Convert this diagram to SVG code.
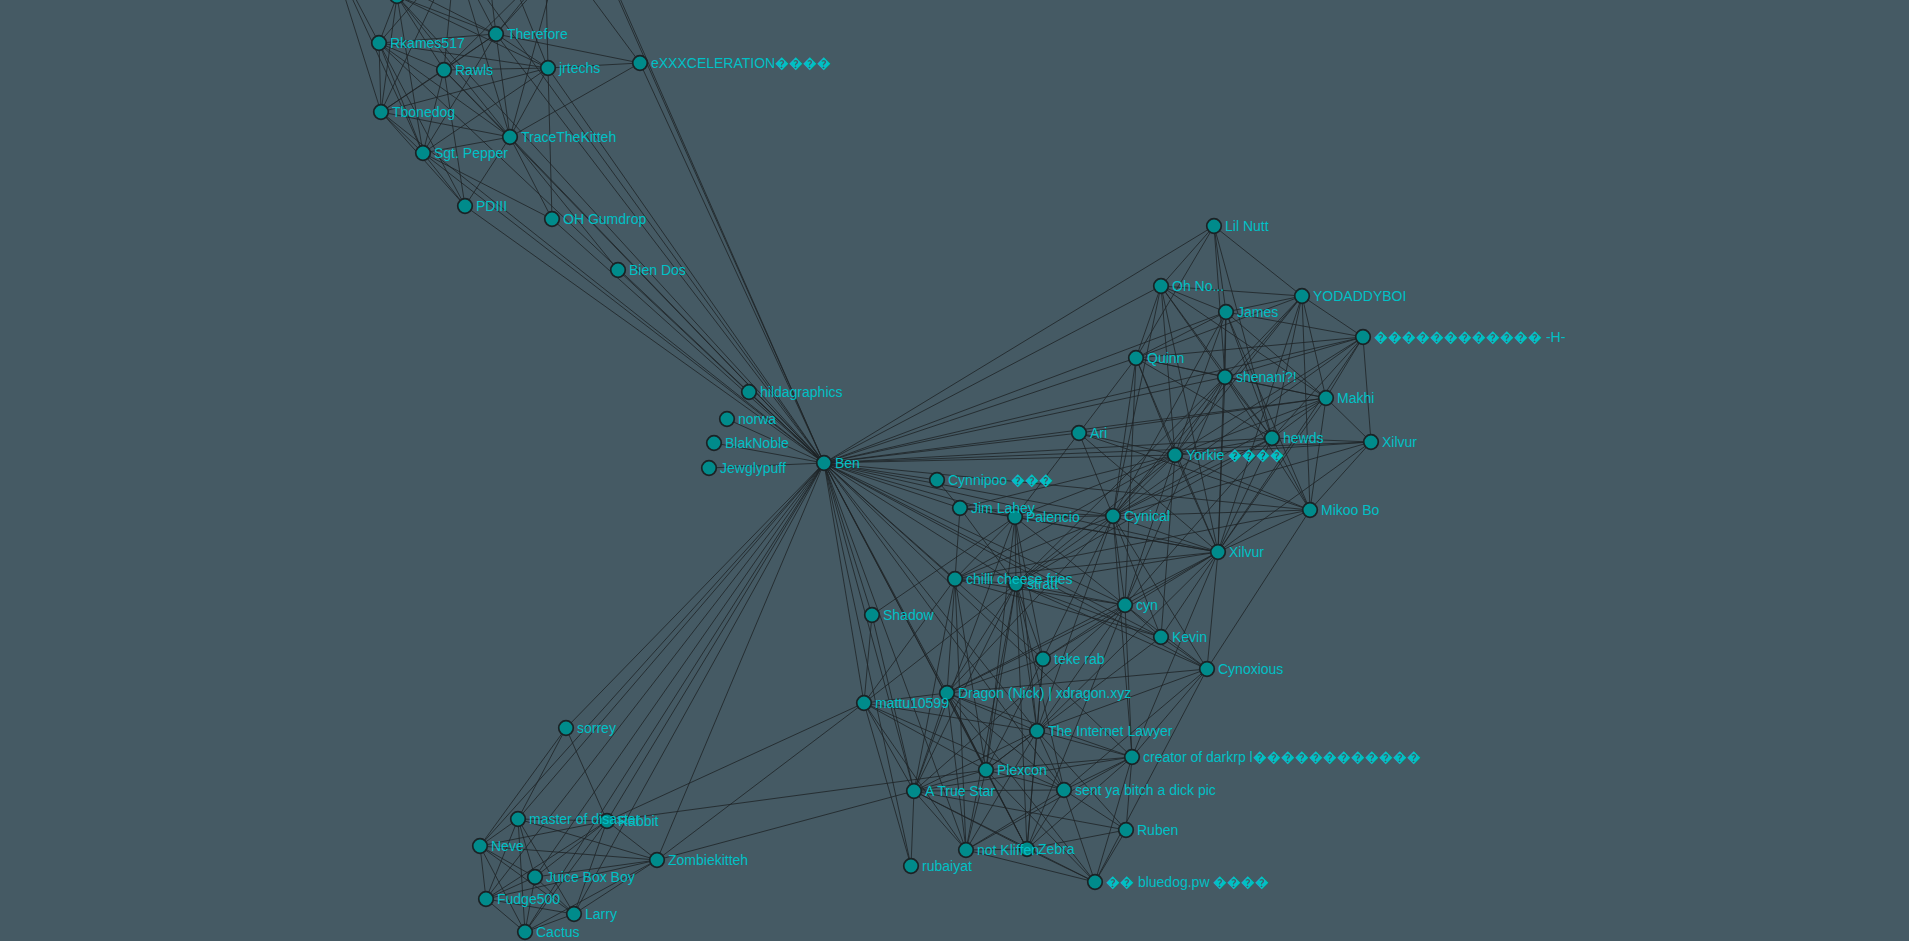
<svg xmlns="http://www.w3.org/2000/svg" width="1909" height="941" viewBox="0 0 1909 941">
<style>
.bg{fill:#455a64}
#links line{stroke:#1e2326;stroke-opacity:.8;stroke-width:1}
.n circle{fill:#008b8b;stroke:#1b2225;stroke-width:1.7}
.n text{fill:#00c0c6;font-family:"Liberation Sans",Arial,sans-serif;font-size:14px}
</style>
<rect class="bg" x="0" y="0" width="1909" height="941"/>
<g id="links">
<line x1="379" y1="43" x2="397" y2="-4"/><line x1="379" y1="43" x2="330" y2="-50"/><line x1="379" y1="43" x2="455" y2="-45"/><line x1="379" y1="43" x2="496" y2="34"/><line x1="379" y1="43" x2="444" y2="70"/><line x1="379" y1="43" x2="548" y2="68"/><line x1="379" y1="43" x2="381" y2="112"/><line x1="379" y1="43" x2="510" y2="137"/><line x1="379" y1="43" x2="423" y2="153"/><line x1="379" y1="43" x2="465" y2="206"/>
<line x1="496" y1="34" x2="397" y2="-4"/><line x1="496" y1="34" x2="330" y2="-50"/><line x1="496" y1="34" x2="455" y2="-45"/><line x1="496" y1="34" x2="560" y2="-45"/><line x1="496" y1="34" x2="590" y2="-70"/><line x1="496" y1="34" x2="480" y2="-100"/><line x1="496" y1="34" x2="444" y2="70"/><line x1="496" y1="34" x2="548" y2="68"/><line x1="496" y1="34" x2="640" y2="63"/><line x1="496" y1="34" x2="381" y2="112"/><line x1="496" y1="34" x2="510" y2="137"/><line x1="496" y1="34" x2="423" y2="153"/>
<line x1="444" y1="70" x2="397" y2="-4"/><line x1="444" y1="70" x2="455" y2="-45"/><line x1="444" y1="70" x2="560" y2="-45"/><line x1="444" y1="70" x2="548" y2="68"/><line x1="444" y1="70" x2="381" y2="112"/><line x1="444" y1="70" x2="510" y2="137"/><line x1="444" y1="70" x2="423" y2="153"/><line x1="444" y1="70" x2="465" y2="206"/>
<line x1="548" y1="68" x2="397" y2="-4"/><line x1="548" y1="68" x2="545" y2="-60"/><line x1="548" y1="68" x2="480" y2="-100"/><line x1="548" y1="68" x2="640" y2="63"/><line x1="548" y1="68" x2="381" y2="112"/><line x1="548" y1="68" x2="510" y2="137"/><line x1="548" y1="68" x2="423" y2="153"/><line x1="548" y1="68" x2="552" y2="219"/>
<line x1="640" y1="63" x2="560" y2="-45"/><line x1="640" y1="63" x2="510" y2="137"/>
<line x1="381" y1="112" x2="397" y2="-4"/><line x1="381" y1="112" x2="330" y2="-50"/><line x1="381" y1="112" x2="455" y2="-45"/><line x1="381" y1="112" x2="510" y2="137"/><line x1="381" y1="112" x2="423" y2="153"/><line x1="381" y1="112" x2="465" y2="206"/>
<line x1="510" y1="137" x2="397" y2="-4"/><line x1="510" y1="137" x2="455" y2="-45"/><line x1="510" y1="137" x2="560" y2="-45"/><line x1="510" y1="137" x2="423" y2="153"/><line x1="510" y1="137" x2="465" y2="206"/><line x1="510" y1="137" x2="552" y2="219"/><line x1="510" y1="137" x2="618" y2="270"/>
<line x1="423" y1="153" x2="397" y2="-4"/><line x1="423" y1="153" x2="330" y2="-50"/><line x1="423" y1="153" x2="465" y2="206"/><line x1="423" y1="153" x2="552" y2="219"/>
<line x1="379" y1="43" x2="824" y2="463"/><line x1="496" y1="34" x2="824" y2="463"/><line x1="444" y1="70" x2="824" y2="463"/><line x1="548" y1="68" x2="824" y2="463"/><line x1="640" y1="63" x2="824" y2="463"/><line x1="381" y1="112" x2="824" y2="463"/><line x1="510" y1="137" x2="824" y2="463"/><line x1="423" y1="153" x2="824" y2="463"/><line x1="465" y1="206" x2="824" y2="463"/><line x1="552" y1="219" x2="824" y2="463"/><line x1="618" y1="270" x2="824" y2="463"/><line x1="397" y1="-4" x2="824" y2="463"/><line x1="590" y1="-70" x2="824" y2="463"/><line x1="570" y1="-110" x2="824" y2="463"/><line x1="455" y1="-45" x2="824" y2="463"/>
<line x1="749" y1="392" x2="824" y2="463"/><line x1="727" y1="419" x2="824" y2="463"/><line x1="714" y1="443" x2="824" y2="463"/><line x1="709" y1="468" x2="824" y2="463"/>
<line x1="566" y1="728" x2="824" y2="463"/><line x1="518" y1="819" x2="824" y2="463"/><line x1="607" y1="821" x2="824" y2="463"/><line x1="480" y1="846" x2="824" y2="463"/><line x1="657" y1="860" x2="824" y2="463"/><line x1="535" y1="877" x2="824" y2="463"/><line x1="486" y1="899" x2="824" y2="463"/><line x1="574" y1="914" x2="824" y2="463"/><line x1="525" y1="932" x2="824" y2="463"/>
<line x1="1214" y1="226" x2="824" y2="463"/><line x1="1161" y1="286" x2="824" y2="463"/><line x1="1136" y1="358" x2="824" y2="463"/><line x1="1226" y1="312" x2="824" y2="463"/><line x1="1079" y1="433" x2="824" y2="463"/><line x1="1225" y1="377" x2="824" y2="463"/><line x1="1363" y1="337" x2="824" y2="463"/><line x1="1175" y1="455" x2="824" y2="463"/><line x1="1272" y1="438" x2="824" y2="463"/><line x1="1371" y1="442" x2="824" y2="463"/><line x1="1326" y1="398" x2="824" y2="463"/><line x1="1310" y1="510" x2="824" y2="463"/><line x1="937" y1="480" x2="824" y2="463"/><line x1="960" y1="508" x2="824" y2="463"/><line x1="1015" y1="517" x2="824" y2="463"/><line x1="1113" y1="516" x2="824" y2="463"/><line x1="1218" y1="552" x2="824" y2="463"/><line x1="955" y1="579" x2="824" y2="463"/><line x1="1016" y1="584" x2="824" y2="463"/><line x1="1125" y1="605" x2="824" y2="463"/><line x1="1161" y1="637" x2="824" y2="463"/><line x1="1207" y1="669" x2="824" y2="463"/><line x1="1043" y1="659" x2="824" y2="463"/><line x1="872" y1="615" x2="824" y2="463"/><line x1="864" y1="703" x2="824" y2="463"/><line x1="947" y1="693" x2="824" y2="463"/><line x1="914" y1="791" x2="824" y2="463"/><line x1="986" y1="770" x2="824" y2="463"/><line x1="1037" y1="731" x2="824" y2="463"/><line x1="966" y1="850" x2="824" y2="463"/><line x1="1027" y1="849" x2="824" y2="463"/><line x1="911" y1="866" x2="824" y2="463"/><line x1="1064" y1="790" x2="824" y2="463"/><line x1="1132" y1="757" x2="824" y2="463"/>
<line x1="1214" y1="226" x2="1161" y2="286"/><line x1="1214" y1="226" x2="1226" y2="312"/><line x1="1214" y1="226" x2="1225" y2="377"/><line x1="1214" y1="226" x2="1302" y2="296"/><line x1="1214" y1="226" x2="1136" y2="358"/><line x1="1214" y1="226" x2="1272" y2="438"/>
<line x1="1161" y1="286" x2="1136" y2="358"/><line x1="1161" y1="286" x2="1226" y2="312"/><line x1="1161" y1="286" x2="1302" y2="296"/><line x1="1161" y1="286" x2="1225" y2="377"/><line x1="1161" y1="286" x2="1272" y2="438"/><line x1="1161" y1="286" x2="1175" y2="455"/><line x1="1161" y1="286" x2="1113" y2="516"/><line x1="1161" y1="286" x2="1218" y2="552"/><line x1="1161" y1="286" x2="1326" y2="398"/>
<line x1="1302" y1="296" x2="1226" y2="312"/><line x1="1302" y1="296" x2="1363" y2="337"/><line x1="1302" y1="296" x2="1225" y2="377"/><line x1="1302" y1="296" x2="1326" y2="398"/><line x1="1302" y1="296" x2="1272" y2="438"/><line x1="1302" y1="296" x2="1175" y2="455"/><line x1="1302" y1="296" x2="1310" y2="510"/><line x1="1302" y1="296" x2="1136" y2="358"/><line x1="1302" y1="296" x2="1113" y2="516"/><line x1="1302" y1="296" x2="1218" y2="552"/>
<line x1="1226" y1="312" x2="1363" y2="337"/><line x1="1226" y1="312" x2="1136" y2="358"/><line x1="1226" y1="312" x2="1225" y2="377"/><line x1="1226" y1="312" x2="1272" y2="438"/><line x1="1226" y1="312" x2="1175" y2="455"/><line x1="1226" y1="312" x2="1218" y2="552"/><line x1="1226" y1="312" x2="1310" y2="510"/><line x1="1226" y1="312" x2="1113" y2="516"/><line x1="1226" y1="312" x2="1326" y2="398"/>
<line x1="1363" y1="337" x2="1136" y2="358"/><line x1="1363" y1="337" x2="1225" y2="377"/><line x1="1363" y1="337" x2="1326" y2="398"/><line x1="1363" y1="337" x2="1371" y2="442"/><line x1="1363" y1="337" x2="1272" y2="438"/><line x1="1363" y1="337" x2="1175" y2="455"/><line x1="1363" y1="337" x2="1113" y2="516"/><line x1="1363" y1="337" x2="1218" y2="552"/>
<line x1="1136" y1="358" x2="1225" y2="377"/><line x1="1136" y1="358" x2="1175" y2="455"/><line x1="1136" y1="358" x2="1113" y2="516"/><line x1="1136" y1="358" x2="1218" y2="552"/><line x1="1136" y1="358" x2="1272" y2="438"/><line x1="1136" y1="358" x2="1326" y2="398"/><line x1="1136" y1="358" x2="1125" y2="605"/><line x1="1136" y1="358" x2="1079" y2="433"/>
<line x1="1225" y1="377" x2="1326" y2="398"/><line x1="1225" y1="377" x2="1272" y2="438"/><line x1="1225" y1="377" x2="1175" y2="455"/><line x1="1225" y1="377" x2="1218" y2="552"/><line x1="1225" y1="377" x2="1113" y2="516"/><line x1="1225" y1="377" x2="1310" y2="510"/><line x1="1225" y1="377" x2="1016" y2="584"/><line x1="1225" y1="377" x2="1125" y2="605"/>
<line x1="1326" y1="398" x2="1272" y2="438"/><line x1="1326" y1="398" x2="1371" y2="442"/><line x1="1326" y1="398" x2="1175" y2="455"/><line x1="1326" y1="398" x2="1113" y2="516"/><line x1="1326" y1="398" x2="1218" y2="552"/><line x1="1326" y1="398" x2="1310" y2="510"/><line x1="1326" y1="398" x2="1079" y2="433"/>
<line x1="1079" y1="433" x2="1113" y2="516"/><line x1="1079" y1="433" x2="1175" y2="455"/><line x1="1079" y1="433" x2="1218" y2="552"/><line x1="1079" y1="433" x2="1015" y2="517"/><line x1="1079" y1="433" x2="1310" y2="510"/>
<line x1="1272" y1="438" x2="1371" y2="442"/><line x1="1272" y1="438" x2="1175" y2="455"/><line x1="1272" y1="438" x2="1310" y2="510"/><line x1="1272" y1="438" x2="1218" y2="552"/><line x1="1272" y1="438" x2="1113" y2="516"/><line x1="1272" y1="438" x2="1125" y2="605"/><line x1="1272" y1="438" x2="1016" y2="584"/>
<line x1="1371" y1="442" x2="1175" y2="455"/><line x1="1371" y1="442" x2="1218" y2="552"/><line x1="1371" y1="442" x2="1310" y2="510"/><line x1="1371" y1="442" x2="1113" y2="516"/>
<line x1="1175" y1="455" x2="1113" y2="516"/><line x1="1175" y1="455" x2="1218" y2="552"/><line x1="1175" y1="455" x2="1310" y2="510"/><line x1="1175" y1="455" x2="1015" y2="517"/><line x1="1175" y1="455" x2="1125" y2="605"/><line x1="1175" y1="455" x2="1016" y2="584"/><line x1="1175" y1="455" x2="955" y2="579"/><line x1="1175" y1="455" x2="1161" y2="637"/><line x1="1175" y1="455" x2="960" y2="508"/>
<line x1="1310" y1="510" x2="1113" y2="516"/><line x1="1310" y1="510" x2="1218" y2="552"/><line x1="1310" y1="510" x2="1207" y2="669"/><line x1="1310" y1="510" x2="955" y2="579"/>
<line x1="1113" y1="516" x2="1218" y2="552"/><line x1="1113" y1="516" x2="1015" y2="517"/><line x1="1113" y1="516" x2="960" y2="508"/><line x1="1113" y1="516" x2="1125" y2="605"/><line x1="1113" y1="516" x2="1016" y2="584"/><line x1="1113" y1="516" x2="955" y2="579"/><line x1="1113" y1="516" x2="1161" y2="637"/><line x1="1113" y1="516" x2="1207" y2="669"/><line x1="1113" y1="516" x2="1043" y2="659"/><line x1="1113" y1="516" x2="1037" y2="731"/><line x1="1113" y1="516" x2="947" y2="693"/><line x1="1113" y1="516" x2="1132" y2="757"/>
<line x1="1218" y1="552" x2="1015" y2="517"/><line x1="1218" y1="552" x2="1125" y2="605"/><line x1="1218" y1="552" x2="1161" y2="637"/><line x1="1218" y1="552" x2="1207" y2="669"/><line x1="1218" y1="552" x2="1016" y2="584"/><line x1="1218" y1="552" x2="955" y2="579"/><line x1="1218" y1="552" x2="1043" y2="659"/><line x1="1218" y1="552" x2="947" y2="693"/><line x1="1218" y1="552" x2="960" y2="508"/><line x1="1218" y1="552" x2="1132" y2="757"/><line x1="1218" y1="552" x2="1037" y2="731"/>
<line x1="937" y1="480" x2="960" y2="508"/>
<line x1="960" y1="508" x2="1015" y2="517"/><line x1="960" y1="508" x2="955" y2="579"/><line x1="960" y1="508" x2="1016" y2="584"/>
<line x1="1015" y1="517" x2="955" y2="579"/><line x1="1015" y1="517" x2="1016" y2="584"/><line x1="1015" y1="517" x2="1125" y2="605"/><line x1="1015" y1="517" x2="1043" y2="659"/><line x1="1015" y1="517" x2="1037" y2="731"/><line x1="1015" y1="517" x2="986" y2="770"/><line x1="1015" y1="517" x2="914" y2="791"/>
<line x1="955" y1="579" x2="1016" y2="584"/><line x1="955" y1="579" x2="1125" y2="605"/><line x1="955" y1="579" x2="947" y2="693"/><line x1="955" y1="579" x2="986" y2="770"/><line x1="955" y1="579" x2="914" y2="791"/><line x1="955" y1="579" x2="864" y2="703"/><line x1="955" y1="579" x2="966" y2="850"/><line x1="955" y1="579" x2="1161" y2="637"/>
<line x1="1016" y1="584" x2="1125" y2="605"/><line x1="1016" y1="584" x2="1043" y2="659"/><line x1="1016" y1="584" x2="947" y2="693"/><line x1="1016" y1="584" x2="1037" y2="731"/><line x1="1016" y1="584" x2="986" y2="770"/><line x1="1016" y1="584" x2="914" y2="791"/><line x1="1016" y1="584" x2="966" y2="850"/><line x1="1016" y1="584" x2="1027" y2="849"/><line x1="1016" y1="584" x2="1064" y2="790"/><line x1="1016" y1="584" x2="1161" y2="637"/><line x1="1016" y1="584" x2="864" y2="703"/><line x1="1016" y1="584" x2="1207" y2="669"/>
<line x1="1125" y1="605" x2="1161" y2="637"/><line x1="1125" y1="605" x2="1207" y2="669"/><line x1="1125" y1="605" x2="1043" y2="659"/><line x1="1125" y1="605" x2="1037" y2="731"/><line x1="1125" y1="605" x2="1132" y2="757"/><line x1="1125" y1="605" x2="947" y2="693"/><line x1="1125" y1="605" x2="914" y2="791"/><line x1="1125" y1="605" x2="1027" y2="849"/>
<line x1="1161" y1="637" x2="1207" y2="669"/><line x1="1161" y1="637" x2="986" y2="770"/>
<line x1="1207" y1="669" x2="1037" y2="731"/><line x1="1207" y1="669" x2="1132" y2="757"/><line x1="1207" y1="669" x2="1064" y2="790"/><line x1="1207" y1="669" x2="1095" y2="882"/><line x1="1207" y1="669" x2="947" y2="693"/>
<line x1="1043" y1="659" x2="947" y2="693"/><line x1="1043" y1="659" x2="1037" y2="731"/><line x1="1043" y1="659" x2="986" y2="770"/><line x1="1043" y1="659" x2="1027" y2="849"/>
<line x1="872" y1="615" x2="864" y2="703"/><line x1="872" y1="615" x2="914" y2="791"/><line x1="872" y1="615" x2="1015" y2="517"/>
<line x1="864" y1="703" x2="947" y2="693"/><line x1="864" y1="703" x2="914" y2="791"/><line x1="864" y1="703" x2="986" y2="770"/><line x1="864" y1="703" x2="911" y2="866"/><line x1="864" y1="703" x2="1037" y2="731"/><line x1="864" y1="703" x2="657" y2="860"/><line x1="864" y1="703" x2="607" y2="821"/><line x1="864" y1="703" x2="966" y2="850"/><line x1="864" y1="703" x2="1064" y2="790"/>
<line x1="947" y1="693" x2="1037" y2="731"/><line x1="947" y1="693" x2="986" y2="770"/><line x1="947" y1="693" x2="914" y2="791"/><line x1="947" y1="693" x2="966" y2="850"/><line x1="947" y1="693" x2="1027" y2="849"/><line x1="947" y1="693" x2="1064" y2="790"/><line x1="947" y1="693" x2="1132" y2="757"/><line x1="947" y1="693" x2="1095" y2="882"/>
<line x1="1037" y1="731" x2="1132" y2="757"/><line x1="1037" y1="731" x2="986" y2="770"/><line x1="1037" y1="731" x2="914" y2="791"/><line x1="1037" y1="731" x2="1064" y2="790"/><line x1="1037" y1="731" x2="1027" y2="849"/><line x1="1037" y1="731" x2="1126" y2="830"/><line x1="1037" y1="731" x2="966" y2="850"/>
<line x1="1132" y1="757" x2="986" y2="770"/><line x1="1132" y1="757" x2="914" y2="791"/><line x1="1132" y1="757" x2="1064" y2="790"/><line x1="1132" y1="757" x2="1126" y2="830"/><line x1="1132" y1="757" x2="1095" y2="882"/><line x1="1132" y1="757" x2="1027" y2="849"/><line x1="1132" y1="757" x2="966" y2="850"/>
<line x1="986" y1="770" x2="914" y2="791"/><line x1="986" y1="770" x2="1064" y2="790"/><line x1="986" y1="770" x2="1027" y2="849"/><line x1="986" y1="770" x2="966" y2="850"/><line x1="986" y1="770" x2="1095" y2="882"/>
<line x1="914" y1="791" x2="1064" y2="790"/><line x1="914" y1="791" x2="966" y2="850"/><line x1="914" y1="791" x2="1027" y2="849"/><line x1="914" y1="791" x2="911" y2="866"/><line x1="914" y1="791" x2="1095" y2="882"/><line x1="914" y1="791" x2="1126" y2="830"/>
<line x1="1064" y1="790" x2="1027" y2="849"/><line x1="1064" y1="790" x2="966" y2="850"/><line x1="1064" y1="790" x2="1126" y2="830"/><line x1="1064" y1="790" x2="1095" y2="882"/>
<line x1="1126" y1="830" x2="1027" y2="849"/><line x1="1126" y1="830" x2="1095" y2="882"/>
<line x1="1027" y1="849" x2="966" y2="850"/><line x1="1027" y1="849" x2="1095" y2="882"/><line x1="966" y1="850" x2="1095" y2="882"/>
<line x1="566" y1="728" x2="518" y2="819"/><line x1="566" y1="728" x2="607" y2="821"/><line x1="566" y1="728" x2="480" y2="846"/>
<line x1="518" y1="819" x2="607" y2="821"/><line x1="518" y1="819" x2="480" y2="846"/><line x1="518" y1="819" x2="535" y2="877"/><line x1="518" y1="819" x2="486" y2="899"/><line x1="518" y1="819" x2="574" y2="914"/><line x1="518" y1="819" x2="525" y2="932"/><line x1="518" y1="819" x2="657" y2="860"/>
<line x1="607" y1="821" x2="480" y2="846"/><line x1="607" y1="821" x2="535" y2="877"/><line x1="607" y1="821" x2="486" y2="899"/><line x1="607" y1="821" x2="574" y2="914"/><line x1="607" y1="821" x2="525" y2="932"/><line x1="607" y1="821" x2="657" y2="860"/><line x1="607" y1="821" x2="986" y2="770"/>
<line x1="480" y1="846" x2="657" y2="860"/><line x1="480" y1="846" x2="535" y2="877"/><line x1="480" y1="846" x2="486" y2="899"/><line x1="480" y1="846" x2="525" y2="932"/><line x1="480" y1="846" x2="574" y2="914"/>
<line x1="657" y1="860" x2="535" y2="877"/><line x1="657" y1="860" x2="486" y2="899"/><line x1="657" y1="860" x2="574" y2="914"/><line x1="657" y1="860" x2="525" y2="932"/><line x1="657" y1="860" x2="914" y2="791"/>
<line x1="535" y1="877" x2="486" y2="899"/><line x1="535" y1="877" x2="574" y2="914"/><line x1="535" y1="877" x2="525" y2="932"/>
<line x1="486" y1="899" x2="574" y2="914"/><line x1="486" y1="899" x2="525" y2="932"/><line x1="574" y1="914" x2="525" y2="932"/>
</g>
<g id="nodes">
<g class="n" id="n-o1" transform="translate(397,-4)"><circle r="7.3"/></g>
<g class="n" id="n-rkames517" transform="translate(379,43)"><circle r="7.3"/><text x="11" y="5">Rkames517</text></g>
<g class="n" id="n-therefore" transform="translate(496,34)"><circle r="7.3"/><text x="11" y="5">Therefore</text></g>
<g class="n" id="n-rawls" transform="translate(444,70)"><circle r="7.3"/><text x="11" y="5">Rawls</text></g>
<g class="n" id="n-jrtechs" transform="translate(548,68)"><circle r="7.3"/><text x="11" y="5">jrtechs</text></g>
<g class="n" id="n-exxx" transform="translate(640,63)"><circle r="7.3"/><text x="11" y="5">eXXXCELERATION&#xFFFD;&#xFFFD;&#xFFFD;&#xFFFD;</text></g>
<g class="n" id="n-tbonedog" transform="translate(381,112)"><circle r="7.3"/><text x="11" y="5">Tbonedog</text></g>
<g class="n" id="n-trace" transform="translate(510,137)"><circle r="7.3"/><text x="11" y="5">TraceTheKitteh</text></g>
<g class="n" id="n-sgtpepper" transform="translate(423,153)"><circle r="7.3"/><text x="11" y="5">Sgt. Pepper</text></g>
<g class="n" id="n-pdiii" transform="translate(465,206)"><circle r="7.3"/><text x="11" y="5">PDIII</text></g>
<g class="n" id="n-ohgumdrop" transform="translate(552,219)"><circle r="7.3"/><text x="11" y="5">OH Gumdrop</text></g>
<g class="n" id="n-biendos" transform="translate(618,270)"><circle r="7.3"/><text x="11" y="5">Bien Dos</text></g>
<g class="n" id="n-hilda" transform="translate(749,392)"><circle r="7.3"/><text x="11" y="5">hildagraphics</text></g>
<g class="n" id="n-norwa" transform="translate(727,419)"><circle r="7.3"/><text x="11" y="5">norwa</text></g>
<g class="n" id="n-blaknoble" transform="translate(714,443)"><circle r="7.3"/><text x="11" y="5">BlakNoble</text></g>
<g class="n" id="n-jewglypuff" transform="translate(709,468)"><circle r="7.3"/><text x="11" y="5">Jewglypuff</text></g>
<g class="n" id="n-ben" transform="translate(824,463)"><circle r="7.3"/><text x="11" y="5">Ben</text></g>
<g class="n" id="n-lilnutt" transform="translate(1214,226)"><circle r="7.3"/><text x="11" y="5">Lil Nutt</text></g>
<g class="n" id="n-ohno" transform="translate(1161,286)"><circle r="7.3"/><text x="11" y="5">Oh No...</text></g>
<g class="n" id="n-yodaddyboi" transform="translate(1302,296)"><circle r="7.3"/><text x="11" y="5">YODADDYBOI</text></g>
<g class="n" id="n-james" transform="translate(1226,312)"><circle r="7.3"/><text x="11" y="5">James</text></g>
<g class="n" id="n-h" transform="translate(1363,337)"><circle r="7.3"/><text x="11" y="5">&#xFFFD;&#xFFFD;&#xFFFD;&#xFFFD;&#xFFFD;&#xFFFD;&#xFFFD;&#xFFFD;&#xFFFD;&#xFFFD;&#xFFFD;&#xFFFD; -H-</text></g>
<g class="n" id="n-quinn" transform="translate(1136,358)"><circle r="7.3"/><text x="11" y="5">Quinn</text></g>
<g class="n" id="n-shenani" transform="translate(1225,377)"><circle r="7.3"/><text x="11" y="5">shenani?!</text></g>
<g class="n" id="n-makhi" transform="translate(1326,398)"><circle r="7.3"/><text x="11" y="5">Makhi</text></g>
<g class="n" id="n-ari" transform="translate(1079,433)"><circle r="7.3"/><text x="11" y="5">Ari</text></g>
<g class="n" id="n-hewds" transform="translate(1272,438)"><circle r="7.3"/><text x="11" y="5">hewds</text></g>
<g class="n" id="n-xilvur1" transform="translate(1371,442)"><circle r="7.3"/><text x="11" y="5">Xilvur</text></g>
<g class="n" id="n-yorkie" transform="translate(1175,455)"><circle r="7.3"/><text x="11" y="5">Yorkie &#xFFFD;&#xFFFD;&#xFFFD;&#xFFFD;</text></g>
<g class="n" id="n-mikoo" transform="translate(1310,510)"><circle r="7.3"/><text x="11" y="5">Mikoo Bo</text></g>
<g class="n" id="n-cynnipoo" transform="translate(937,480)"><circle r="7.3"/><text x="11" y="5">Cynnipoo &#xFFFD;&#xFFFD;&#xFFFD;</text></g>
<g class="n" id="n-palencio" transform="translate(1015,517)"><circle r="7.3"/><text x="11" y="5">Palencio</text></g>
<g class="n" id="n-jimlahey" transform="translate(960,508)"><circle r="7.3"/><text x="11" y="5">Jim Lahey</text></g>
<g class="n" id="n-cynical" transform="translate(1113,516)"><circle r="7.3"/><text x="11" y="5">Cynical</text></g>
<g class="n" id="n-xilvur2" transform="translate(1218,552)"><circle r="7.3"/><text x="11" y="5">Xilvur</text></g>
<g class="n" id="n-stratt" transform="translate(1016,584)"><circle r="7.3"/><text x="11" y="5">stratt</text></g>
<g class="n" id="n-chilli" transform="translate(955,579)"><circle r="7.3"/><text x="11" y="5">chilli cheese fries</text></g>
<g class="n" id="n-cyn" transform="translate(1125,605)"><circle r="7.3"/><text x="11" y="5">cyn</text></g>
<g class="n" id="n-kevin" transform="translate(1161,637)"><circle r="7.3"/><text x="11" y="5">Kevin</text></g>
<g class="n" id="n-cynoxious" transform="translate(1207,669)"><circle r="7.3"/><text x="11" y="5">Cynoxious</text></g>
<g class="n" id="n-tekerab" transform="translate(1043,659)"><circle r="7.3"/><text x="11" y="5">teke rab</text></g>
<g class="n" id="n-shadow" transform="translate(872,615)"><circle r="7.3"/><text x="11" y="5">Shadow</text></g>
<g class="n" id="n-dragon" transform="translate(947,693)"><circle r="7.3"/><text x="11" y="5">Dragon (Nick) | xdragon.xyz</text></g>
<g class="n" id="n-mattu" transform="translate(864,703)"><circle r="7.3"/><text x="11" y="5">mattu10599</text></g>
<g class="n" id="n-lawyer" transform="translate(1037,731)"><circle r="7.3"/><text x="11" y="5">The Internet Lawyer</text></g>
<g class="n" id="n-creator" transform="translate(1132,757)"><circle r="7.3"/><text x="11" y="5">creator of darkrp l&#xFFFD;&#xFFFD;&#xFFFD;&#xFFFD;&#xFFFD;&#xFFFD;&#xFFFD;&#xFFFD;&#xFFFD;&#xFFFD;&#xFFFD;&#xFFFD;</text></g>
<g class="n" id="n-plexcon" transform="translate(986,770)"><circle r="7.3"/><text x="11" y="5">Plexcon</text></g>
<g class="n" id="n-truestar" transform="translate(914,791)"><circle r="7.3"/><text x="11" y="5">A True Star</text></g>
<g class="n" id="n-sentya" transform="translate(1064,790)"><circle r="7.3"/><text x="11" y="5">sent ya bitch a dick pic</text></g>
<g class="n" id="n-ruben" transform="translate(1126,830)"><circle r="7.3"/><text x="11" y="5">Ruben</text></g>
<g class="n" id="n-zebra" transform="translate(1027,849)"><circle r="7.3"/><text x="11" y="5">Zebra</text></g>
<g class="n" id="n-kliffen" transform="translate(966,850)"><circle r="7.3"/><text x="11" y="5">not Kliffen</text></g>
<g class="n" id="n-rubaiyat" transform="translate(911,866)"><circle r="7.3"/><text x="11" y="5">rubaiyat</text></g>
<g class="n" id="n-bluedog" transform="translate(1095,882)"><circle r="7.3"/><text x="11" y="5">&#xFFFD;&#xFFFD; bluedog.pw &#xFFFD;&#xFFFD;&#xFFFD;&#xFFFD;</text></g>
<g class="n" id="n-sorrey" transform="translate(566,728)"><circle r="7.3"/><text x="11" y="5">sorrey</text></g>
<g class="n" id="n-rabbit" transform="translate(607,821)"><circle r="7.3"/><text x="11" y="5">Rabbit</text></g>
<g class="n" id="n-master" transform="translate(518,819)"><circle r="7.3"/><text x="11" y="5">master of disaster</text></g>
<g class="n" id="n-neve" transform="translate(480,846)"><circle r="7.3"/><text x="11" y="5">Neve</text></g>
<g class="n" id="n-zombie" transform="translate(657,860)"><circle r="7.3"/><text x="11" y="5">Zombiekitteh</text></g>
<g class="n" id="n-juicebox" transform="translate(535,877)"><circle r="7.3"/><text x="11" y="5">Juice Box Boy</text></g>
<g class="n" id="n-fudge" transform="translate(486,899)"><circle r="7.3"/><text x="11" y="5">Fudge500</text></g>
<g class="n" id="n-larry" transform="translate(574,914)"><circle r="7.3"/><text x="11" y="5">Larry</text></g>
<g class="n" id="n-cactus" transform="translate(525,932)"><circle r="7.3"/><text x="11" y="5">Cactus</text></g>
</g>
</svg>
